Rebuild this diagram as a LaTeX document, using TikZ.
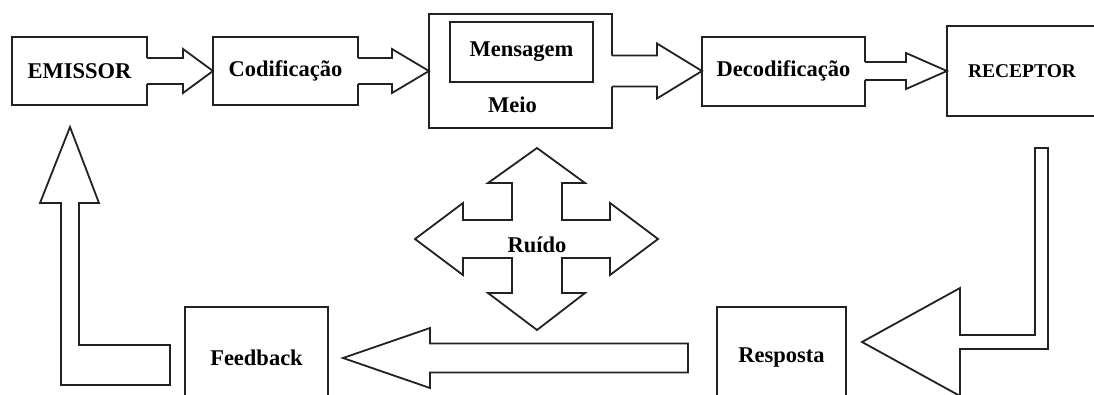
\documentclass[tikz,border=0pt]{standalone}
\usepackage{fontspec}
\setmainfont{Liberation Serif}
\usetikzlibrary{positioning,calc}
\definecolor{InkGray}{RGB}{34,34,34}
\tikzset{
  stagebox/.style={draw=InkGray, line width=2pt, inner sep=0pt, outer sep=0pt,
    align=center, font=\fontsize{22.5}{26}\selectfont\bfseries,
    minimum height=68pt},
  blockarrow/.style={draw=InkGray, line width=1.8pt, fill=white, line join=miter},
  plainlabel/.style={inner sep=0pt, font=\fontsize{22.5}{26}\selectfont\bfseries}
}
% horizontal block arrow: [tail] {from} {tip} {shaft half} {head half} {head length}
\newcommand{\hblock}[6][]{%
  \fill[white] let \p1=(#2), \p2=(#3) in
    ({\x1-2pt},{\y2+#4pt}) -- ({\x2-(#6pt)},{\y2+#4pt}) -- ({\x2-(#6pt)},{\y2+#5pt}) -- (\x2,\y2)
    -- ({\x2-(#6pt)},{\y2-#5pt}) -- ({\x2-(#6pt)},{\y2-#4pt}) -- ({\x1-2pt},{\y2-#4pt}) -- cycle;
  \draw[blockarrow, fill=none] let \p1=(#2), \p2=(#3) in
    (\x1,{\y2+#4pt}) -- ({\x2-(#6pt)},{\y2+#4pt}) -- ({\x2-(#6pt)},{\y2+#5pt}) -- (\x2,\y2)
    -- ({\x2-(#6pt)},{\y2-#5pt}) -- ({\x2-(#6pt)},{\y2-#4pt}) -- (\x1,{\y2-#4pt}) #1;
}

\begin{document}
\begin{tikzpicture}[x=1pt, y=-1pt]
  \useasboundingbox (0,0) rectangle (1094,394);

  % top row
  \node[stagebox, minimum width=135pt] (emissor) at (79.5,71) {EMISSOR};
  \node[stagebox, minimum width=145pt, right=66pt of emissor] (codif) {Codificação};
  \node[stagebox, minimum width=183pt, minimum height=114pt, right=71pt of codif] (meio) {};
  \node[stagebox, minimum width=143pt, minimum height=60pt, below=8pt of meio.north, xshift=1pt] (mensagem) {Mensagem};
  \node[plainlabel] (meiolabel) at ($(meio.south)+(-8,-23)$) {Meio};
  \node[stagebox, minimum width=163pt, minimum height=69pt, right=90pt of meio] (decod) {Decodificação};
  \node[stagebox, minimum width=150pt, minimum height=90pt, right=82pt of decod,
    font=\fontsize{19.5}{23}\selectfont\bfseries] (receptor) {RECEPTOR};

  % bottom row
  \node[stagebox, minimum width=129pt, minimum height=102pt] (resposta) at (781.5,358) {Resposta};
  \node[stagebox, minimum width=143pt, minimum height=102pt] (feedback) at (256.5,358) {Feedback};

  \hblock{emissor.east}{codif.west}{13}{22}{30}
  \hblock{codif.east}{meio.west}{13}{22}{37}
  \hblock{meio.east}{decod.west}{15.5}{27.5}{45}
  \hblock{decod.east}{receptor.west}{9}{18}{41}
  \hblock[-- cycle]{$(resposta.west)+(-29,0)$}{$(feedback.east)+(15,0)$}{14.5}{30}{-87}

  % return arrows
  \draw[blockarrow] (1035,148) -- (1048,148) -- (1048,349) -- (960,349) -- (960,396)
    -- (862,342) -- (960,288) -- (960,335) -- (1035,335) -- cycle;
  \draw[blockarrow] (61,385) -- (170,385) -- (170,345) -- (79,345) -- (79,203)
    -- (99,203) -- (70,127) -- (40,203) -- (61,203) -- cycle;

  % noise
  \begin{scope}[shift={(537,239)}]
    \draw[blockarrow] (0,-91) -- (48,-56) -- (25,-56) -- (25,-19) -- (73,-19) -- (73,-36)
      -- (121,0) -- (73,36) -- (73,19) -- (25,19) -- (25,54) -- (48,54) -- (0,91)
      -- (-49,54) -- (-25,54) -- (-25,19) -- (-74,19) -- (-74,36) -- (-122,0)
      -- (-74,-36) -- (-74,-19) -- (-25,-19) -- (-25,-56) -- (-49,-56) -- cycle;
  \end{scope}
  \node[plainlabel] (ruido) at (537,245) {Ruído};
\end{tikzpicture}
\end{document}
